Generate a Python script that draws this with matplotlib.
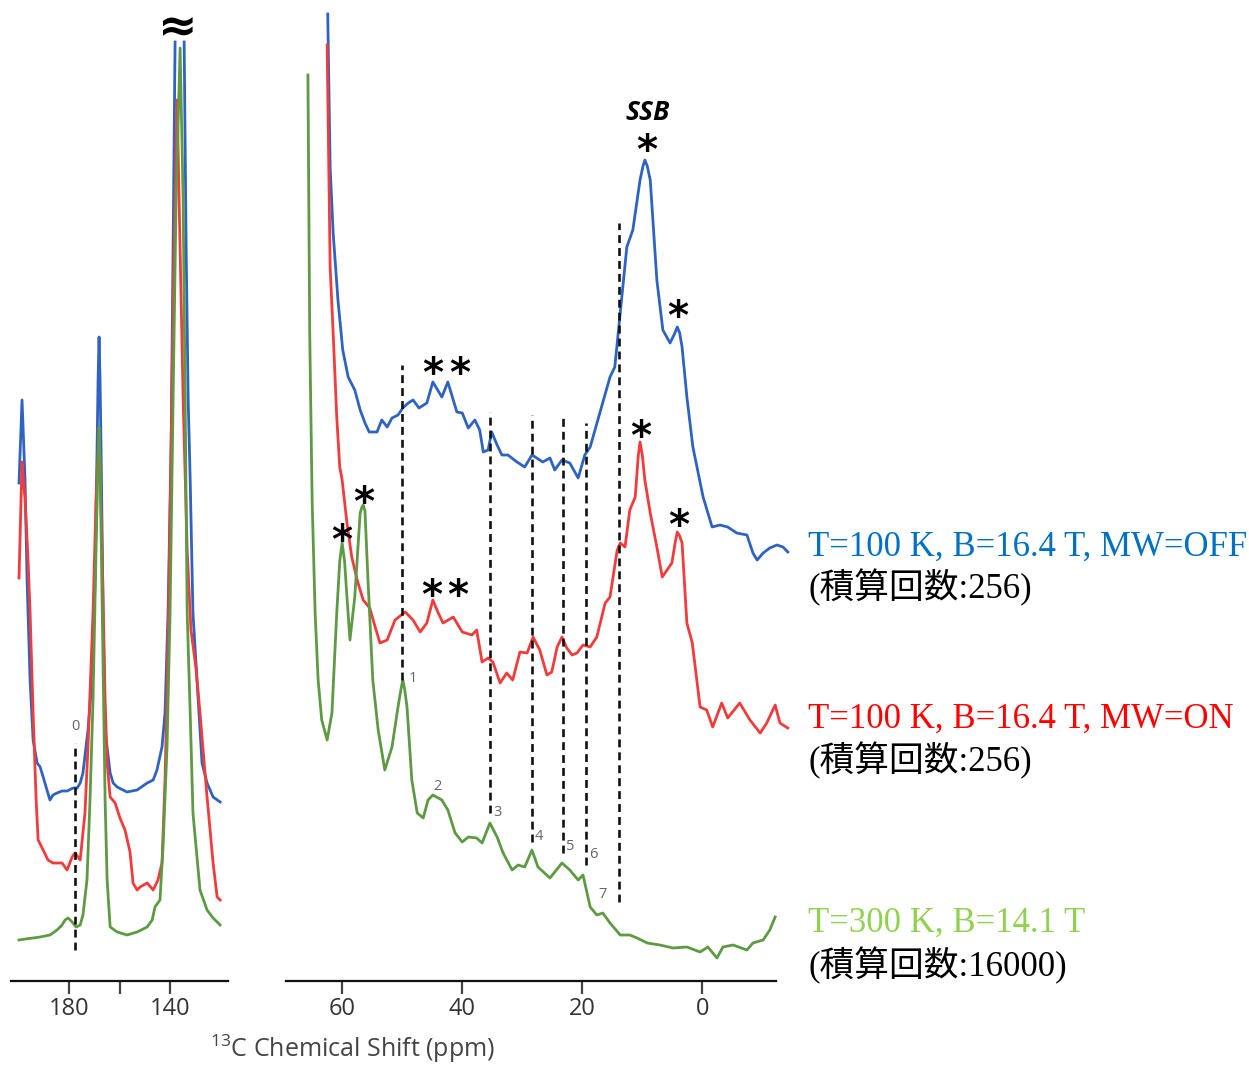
import matplotlib
matplotlib.use('Agg')
import matplotlib.pyplot as plt
import numpy as np

plt.rcParams.update({
    'font.family': ['Open Sans', 'DejaVu Sans'],
    'mathtext.default': 'regular',
    'lines.solid_joinstyle': 'round',
})

# ---- data (ppm, intensity in a.u.) ----
# carbonyl / aromatic region (left panel)
blue_left_ppm = [200.0, 198.8, 197.6, 196.8, 195.6, 194.4, 192.8, 191.6, 190.4, 188.9, 187.7, 186.5,
                 184.9, 182.9, 180.9, 178.5, 176.9, 175.7, 174.6, 172.6, 171.0, 169.8, 169.0, 168.6,
                 168.2, 167.8, 167.4, 166.6, 165.8, 163.8, 162.6, 161.0, 157.1, 153.1, 149.1, 146.7,
                 145.2, 143.2, 142.0, 140.8, 139.6, 138.8, 138.0, np.nan, 134.4, 133.6, 132.8, 132.0,
                 130.9, 129.3, 127.3, 125.3, 122.9, 120.1]
blue_left_int = [498, 581, 501, 401, 301, 241, 218, 214, 204, 191, 181, 186,
                 188, 190, 190, 193, 193, 198, 208, 251, 301, 401, 531, 600,
                 644, 600, 531, 368, 251, 208, 198, 194, 189, 191, 198, 201,
                 211, 234, 268, 368, 531, 731, 939, np.nan, 939, 731, 581, 501,
                 368, 301, 218, 198, 184, 179]

red_left_ppm = [200.0, 198.8, 197.6, 196.4, 195.6, 194.4, 193.2, 192.4, 190.4, 188.5, 186.5, 182.9,
                180.9, 178.9, 177.7, 175.7, 173.8, 172.6, 170.6, 169.4, 168.2, 167.0, 165.8, 165.0,
                163.8, 161.8, 159.9, 157.9, 155.9, 154.7, 153.1, 151.9, 149.1, 146.7, 144.8, 143.2,
                142.0, 140.8, 139.6, 138.4, 137.2, 136.0, 134.8, 133.2, 131.7, 129.7, 128.1, 125.3,
                122.9, 121.3, 120.1]
red_left_int = [403, 519, 481, 421, 368, 268, 181, 141, 131, 121, 118, 118,
                111, 124, 128, 121, 168, 234, 368, 481, 551, 431, 281, 218,
                184, 178, 163, 151, 129, 98, 91, 94, 98, 91, 101, 118,
                201, 334, 531, 731, 881, 731, 581, 431, 351, 313, 268, 184,
                118, 84, 81]

green_left_ppm = [200.0, 197.6, 194.4, 191.6, 187.7, 184.9, 182.9, 181.7, 180.5, 178.9, 177.3, 175.7,
                  174.6, 173.0, 171.8, 170.6, 169.4, 168.6, 168.2, 167.8, 167.0, 165.8, 165.0, 163.8,
                  161.0, 157.1, 153.1, 149.1, 147.1, 146.0, 144.0, 142.8, 141.2, 140.0, 138.8, 137.6,
                  136.0, 134.8, 134.0, 133.2, 132.0, 130.9, 128.1, 125.3, 122.9, 120.1]
green_left_int = [41, 42, 43, 44, 46, 51, 56, 61, 63, 59, 54, 56,
                  66, 101, 181, 281, 431, 520, 554, 520, 381, 181, 101, 54,
                  49, 46, 49, 54, 61, 74, 81, 134, 234, 368, 581, 781,
                  933, 781, 581, 368, 268, 168, 91, 71, 63, 56]

# aliphatic region (right panel)
blue_right_ppm = [62.4, 62.0, 61.5, 60.7, 59.9, 59.0, 57.9, 57.0, 56.2, 55.5, 54.2, 53.4, 52.5, 51.7,
                  50.7, 49.9, 49.0, 48.2, 47.2, 45.9, 44.9, 43.4, 42.4, 40.9, 40.0, 39.0, 37.9, 37.1,
                  36.5, 35.7, 35.1, 34.2, 33.4, 32.4, 30.9, 29.6, 28.4, 27.6, 26.6, 25.4, 24.6, 23.4,
                  22.1, 20.7, 19.6, 18.7, 17.1, 15.4, 14.6, 13.7, 12.6, 11.6, 10.4, 9.9, 9.6, 9.2,
                  8.7, 7.6, 6.6, 5.4, 4.6, 4.2, 3.8, 3.4, 2.6, 1.6, -0.1, -1.6, -2.9, -4.2, -5.7,
                  -7.4, -8.4, -9.1, -10.1, -11.2, -12.4, -13.4, -14.2]
blue_right_int = [967, 814, 748, 681, 631, 604, 591, 571, 558, 549, 549, 561, 554, 563,
                  566, 573, 578, 581, 573, 578, 599, 584, 599, 569, 568, 553, 561, 551,
                  529, 531, 549, 536, 526, 526, 519, 514, 526, 523, 519, 523, 511, 521,
                  518, 503, 526, 534, 568, 604, 614, 668, 734, 751, 801, 815, 821, 815,
                  801, 701, 651, 638, 648, 654, 648, 634, 584, 534, 484, 454, 456, 454, 448,
                  446, 428, 421, 428, 433, 436, 434, 429]

red_right_ppm = [62.5, 62.0, 61.5, 60.9, 60.4, 60.0, 59.2, 58.4, 57.5, 56.5, 55.4, 54.5, 53.7, 52.5,
                 51.2, 49.5, 48.2, 47.0, 45.9, 44.9, 44.0, 43.2, 41.5, 40.0, 38.4, 37.6, 36.7, 35.7,
                 34.9, 33.7, 32.6, 31.6, 30.4, 29.2, 28.2, 27.1, 25.9, 25.1, 24.2, 23.4, 22.6, 21.7,
                 20.9, 19.9, 18.7, 17.6, 16.2, 15.4, 14.2, 13.7, 12.9, 12.1, 11.2, 10.7, 10.4, 10.0,
                 9.6, 8.7, 7.6, 6.7, 5.9, 5.1, 4.5, 4.2, 3.8, 3.4, 2.6, 1.7, 0.4, -0.7, -1.7, -3.2,
                 -4.2, -6.2, -7.9, -9.6, -10.7, -12.1, -12.9, -14.2]
red_right_int = [936, 714, 648, 564, 514, 501, 458, 424, 401, 381, 373, 354, 338, 341,
                 361, 369, 361, 349, 358, 381, 368, 358, 364, 349, 346, 351, 319, 323,
                 319, 298, 308, 301, 329, 328, 344, 331, 306, 309, 334, 344, 333, 326,
                 328, 336, 334, 344, 378, 384, 431, 438, 434, 471, 484, 525, 539, 525,
                 501, 468, 434, 404, 411, 418, 440, 449, 445, 438, 358, 338, 274, 271, 254, 278,
                 263, 278, 261, 248, 258, 276, 258, 253]

green_right_ppm = [65.7, 65.4, 65.0, 64.5, 64.0, 63.4, 62.5, 61.7, 60.9, 60.4, 60.0, 59.6, 59.2, 58.7,
                   57.9, 57.0, 56.7, 56.5, 56.2, 55.7, 54.9, 54.0, 52.9, 51.7, 50.7, 50.2, 49.9, 49.6,
                   49.2, 48.4, 47.5, 46.5, 45.7, 44.9, 43.4, 42.4, 41.2, 40.0, 39.0, 37.6, 36.7, 35.4,
                   34.2, 33.2, 31.7, 30.7, 29.6, 28.4, 27.4, 25.4, 23.4, 22.1, 20.7, 19.9, 18.7, 17.6,
                   16.6, 15.4, 13.7, 12.1, 10.9, 9.2, 7.1, 4.9, 2.6, 0.4, -0.9, -2.4, -3.4, -5.1,
                   -7.4, -8.4, -10.1, -11.2, -12.1]
green_right_int = [906, 648, 481, 368, 301, 261, 241, 268, 368, 420, 438, 420, 384, 341,
                   384, 468, 474, 476, 470, 401, 301, 251, 211, 234, 274, 292, 301, 292,
                   274, 201, 168, 163, 181, 186, 181, 171, 148, 139, 144, 143, 138, 158,
                   144, 128, 111, 116, 114, 131, 114, 103, 118, 111, 101, 106, 74, 66,
                   68, 58, 46, 46, 43, 38, 36, 33, 34, 29, 34, 23, 34, 36,
                   31, 38, 41, 51, 64]

# assigned peak positions: (ppm, lower, upper, label, label ppm, label intensity)
assign_left = [(177.7, 31, 238, '0', 177.7, 254)]
assign_right = [(50.0, 301, 616, '1', 48.2, 302),
                (35.4, 168, 569, '3', 34.2, 168),
                (28.4, 139, 566, '4', 27.2, 145),
                (23.3, 128, 566, '5', 22.1, 134),
                (19.45, 116, 558, '6', 18.2, 126),
                (13.9, 79, 758, '7', 16.6, 86)]

BLUE = '#2F63C2'
RED = '#F03C3C'
GREEN = '#5E9A44'

W, H = 1249, 1066
fig = plt.figure(figsize=(W / 100, H / 100), dpi=100)

axis_y = 981
ax_l = fig.add_axes([10.7 / W, (H - axis_y) / H, (227.7 - 10.7) / W, axis_y / H])
ax_r = fig.add_axes([286 / W, (H - axis_y) / H, (790 - 286) / W, axis_y / H])

for ax in (ax_l, ax_r):
    ax.set_ylim(0, axis_y)
    ax.set_yticks([])
    for s in ('left', 'right', 'top'):
        ax.spines[s].set_visible(False)
    ax.spines['bottom'].set_linewidth(1.6)
    ax.spines['bottom'].set_color('#111111')
    ax.tick_params(axis='x', length=9.5, width=1.6, color='#444444', labelsize=17,
                   labelcolor='#333333', pad=2)
    ax.patch.set_alpha(0)

lw = 2.0
ax_l.plot(blue_left_ppm, blue_left_int, color=BLUE, lw=lw)
ax_l.plot(red_left_ppm, red_left_int, color=RED, lw=lw)
ax_l.plot(green_left_ppm, green_left_int, color=GREEN, lw=lw)
ax_r.plot(blue_right_ppm, blue_right_int, color=BLUE, lw=lw, clip_on=False)
ax_r.plot(red_right_ppm, red_right_int, color=RED, lw=lw, clip_on=False)
ax_r.plot(green_right_ppm, green_right_int, color=GREEN, lw=lw, clip_on=False)

ax_l.set_xlim(203.3, 117.1)
ax_l.set_xticks([180, 160, 140])
ax_l.set_xticklabels(['180', '', '140'])
ax_r.set_xlim(69.35, -14.57)
ax_r.spines['bottom'].set_bounds(69.35, -12.2)
ax_r.set_xticks([60, 40, 20, 0])

for ax, assign in ((ax_l, assign_left), (ax_r, assign_right)):
    for ppm, lo, hi, lab, lx, ly in assign:
        ax.plot([ppm, ppm], [lo, hi], color='#111111', lw=1.9, dashes=(3.0, 1.9))
        ax.text(lx, ly, lab, fontsize=10.5, color='#666666', ha='center', va='center')
ax_r.text(44.2, 195, '2', fontsize=10.5, color='#666666', ha='center', va='center')

# spinning sidebands
star = dict(fontsize=29, fontweight='bold', ha='center', va='center', color='black',
            family='DejaVu Sans')
for x, y in [(60.0, 449), (56.4, 487), (44.9, 616), (40.5, 616), (45.1, 394), (40.7, 394),
             (9.2, 839), (4.1, 673), (10.2, 553), (3.9, 464)]:
    ax_r.text(x, y - 10, '*', **star)
ax_r.text(9.1, 869, 'SSB', fontsize=19, fontweight='bold', style='italic', ha='center',
          va='center', family='Open Sans')
ax_l.text(136.8, 953, '\u2248', fontsize=34, fontweight='bold', ha='center', va='center',
          family='DejaVu Sans')

fig.text(353 / W, 1 - 1049 / H, r'$^{13}$C Chemical Shift (ppm)', fontsize=18, color='#444444',
         ha='center', va='center')

serif = ['Liberation Serif', 'Noto Sans CJK JP']
labels = [('T=100 K, B=16.4 T, MW=OFF', '#0070C0', 547),
          ('(積算回数:256)', 'black', 588),
          ('T=100 K, B=16.4 T, MW=ON', '#FF0000', 719),
          ('(積算回数:256)', 'black', 761),
          ('T=300 K, B=14.1 T', '#92D050', 923),
          ('(積算回数:16000)', 'black', 966)]
for txt, col, yp in labels:
    fig.text(808 / W, 1 - yp / H, txt, color=col, fontsize=25, family=serif,
             ha='left', va='center')

fig.savefig('out.png', dpi=100)
